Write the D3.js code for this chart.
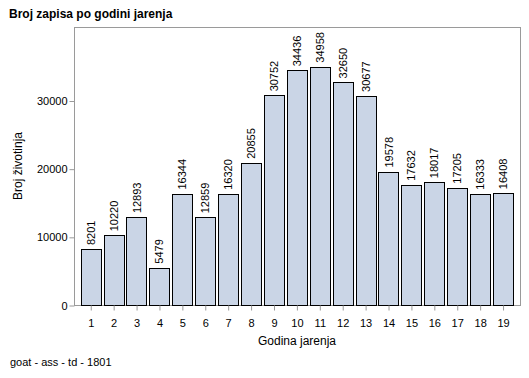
<!DOCTYPE html>
<html lang="hr">
<head>
<meta charset="UTF-8">
<title>Broj zapisa po godini jarenja</title>
<style>
  body { margin: 0; background: #fff; }
  svg { display: block; font-family: "Liberation Sans", Arial, sans-serif; }
</style>
<script src="https://cdn.jsdelivr.net/npm/d3@7/dist/d3.min.js"></script>
</head>
<body>
<script>
const years = ['1','2','3','4','5','6','7','8','9','10','11','12','13','14','15','16','17','18','19']
const counts = [8201, 10220, 12893, 5479, 16344, 12859, 16320, 20855, 30752, 34436, 34958, 32650, 30677, 19578, 17632, 18017, 17205, 16333, 16408]
const yTicks = [0, 10000, 20000, 30000]

const width = 529, height = 378
const frame = { left: 74, right: 520, top: 27, bottom: 305 }

const svg = d3.select('body').append('svg').attr('width', width).attr('height', height)

const x = d3.scaleBand().domain(years).range([79.3, 514.5]).paddingInner(0.12).paddingOuter(0.06)
const y = d3.scaleLinear().domain([0, 30000]).range([frame.bottom, 100.5])

// frame
svg.append('rect')
  .attr('x', frame.left + 0.5).attr('y', frame.top + 0.5)
  .attr('width', frame.right - frame.left).attr('height', frame.bottom - frame.top)
  .attr('fill', 'none').attr('stroke', '#9a9a9a')

// bars
svg.append('g').selectAll('rect')
  .data(counts)
  .enter().append('rect')
  .attr('x', (d, i) => Math.round(x(years[i])) + 0.5)
  .attr('y', d => Math.round(y(d)) + 0.5)
  .attr('width', Math.round(x.bandwidth()))
  .attr('height', d => Math.round(y(0)) - Math.round(y(d)))
  .attr('fill', '#cad5e6')
  .attr('stroke', '#000')

// value labels
svg.append('g').selectAll('text')
  .data(counts)
  .enter().append('text')
  .attr('transform', (d, i) => `translate(${x(years[i]) + x.bandwidth() / 2 + 4},${y(d) - 4}) rotate(-90)`)
  .attr('font-size', 11)
  .attr('fill', '#000')
  .text(d => d)

// axes
const xAxis = d3.axisBottom(x).tickSize(5).tickSizeOuter(0)
const gx = svg.append('g').attr('transform', `translate(0.5,${frame.bottom + 0.5})`).call(xAxis)
gx.select('.domain').remove()
gx.selectAll('line').attr('stroke', '#9a9a9a')
gx.selectAll('text').attr('font-size', 11).attr('fill', '#000').attr('font-family', null).attr('dy', '1.2em')

const yAxis = d3.axisLeft(y).tickValues(yTicks).tickSize(5).tickFormat(d3.format('d'))
const gy = svg.append('g').attr('transform', `translate(${frame.left + 0.5},0.5)`).call(yAxis)
gy.select('.domain').remove()
gy.selectAll('line').attr('stroke', '#9a9a9a')
gy.selectAll('text').attr('font-size', 11).attr('fill', '#000').attr('font-family', null).attr('x', -7)

// titles
svg.append('text').attr('x', 9).attr('y', 18).attr('font-size', 12).attr('font-weight', 'bold').text('Broj zapisa po godini jarenja')
svg.append('text').attr('x', (frame.left + frame.right) / 2).attr('y', 345).attr('text-anchor', 'middle').attr('font-size', 12).text('Godina jarenja')
svg.append('text').attr('transform', `translate(22,${(frame.top + frame.bottom) / 2}) rotate(-90)`).attr('text-anchor', 'middle').attr('font-size', 12).text('Broj životinja')
svg.append('text').attr('x', 10).attr('y', 366).attr('font-size', 11).text('goat - ass - td - 1801')
</script>
</body>
</html>
